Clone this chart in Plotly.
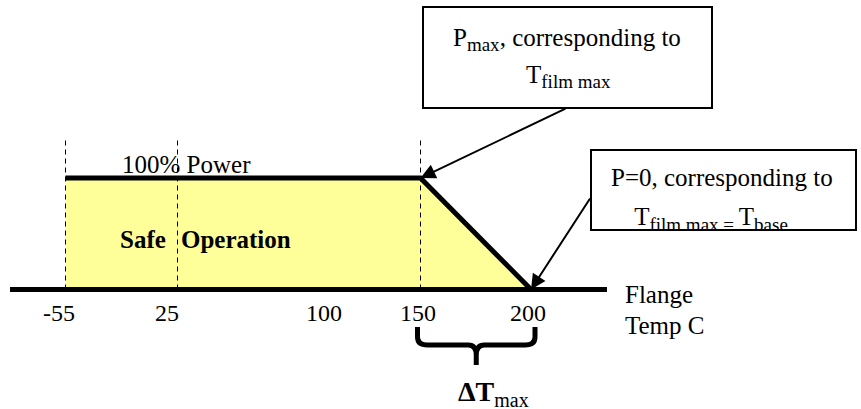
import numpy as np
import plotly.graph_objects as go

# ---------------- data ----------------
tick_temps = [-55, 25, 100, 150, 200]
tick_labels = ["-55", "25", "100", "150", "200"]
curve_temps = [-55, 150, 200]          # derating curve breakpoints (flange temp, C)
curve_power = [100, 100, 0]            # % of rated power
dashed_temps = [-55, 25, 150]
delta_temps = [150, 200]               # span of the Delta T max brace

# schematic (not-to-scale) horizontal placement of the temperature marks
axis_pos = [65.5, 177.5, 324, 420.5, 531]

W, H = 861, 409
FONT = "Liberation Serif, Times New Roman, Times, serif"


def tx(t):
    return float(np.interp(t, tick_temps, axis_pos))


Y0_PIX, Y100_PIX = 289.5, 178.0
K = (Y0_PIX - Y100_PIX) / 100.0


def py(pix):
    """pixel row -> power-axis units"""
    return (Y0_PIX - pix) / K


def sub(s, size=19):
    return f"<sub><span style='font-size:{size}px'>{s}</span></sub>"


fig = go.Figure()

# yellow safe-operation area
fig.add_trace(go.Scatter(
    x=[tx(t) for t in curve_temps], y=curve_power, mode="lines",
    line=dict(width=0, color="rgba(0,0,0,0)"),
    fill="tozeroy", fillcolor="#FFFF99", hoverinfo="skip"))

# dashed reference lines
for t in dashed_temps:
    fig.add_trace(go.Scatter(
        x=[tx(t), tx(t)], y=[0, py(138)], mode="lines",
        line=dict(color="black", width=1, dash="5px,4px"), hoverinfo="skip"))

# derating curve
fig.add_trace(go.Scatter(
    x=[tx(t) for t in curve_temps], y=curve_power, mode="lines",
    line=dict(color="black", width=5), hoverinfo="skip"))

# temperature axis line
fig.add_trace(go.Scatter(
    x=[10, 607], y=[0, 0], mode="lines",
    line=dict(color="black", width=5), hoverinfo="skip"))

# box 2 second line (drawn as trace so the box edge can clip it)
fig.add_trace(go.Scatter(
    x=[711], y=[py(219)], mode="text",
    text=["T" + sub("film max = ") + "T" + sub("base")],
    textposition="middle center",
    textfont=dict(family=FONT, size=25, color="black"), hoverinfo="skip"))

shapes = []
# white strip that clips the text under box 2
shapes.append(dict(type="rect", xref="x", yref="y", x0=592, x1=855,
                   y0=py(231), y1=py(246), fillcolor="white",
                   line=dict(width=0), layer="above"))
# boxes
shapes.append(dict(type="rect", xref="x", yref="y", x0=423, x1=712,
                   y0=py(108), y1=py(7), line=dict(color="black", width=2),
                   fillcolor="rgba(0,0,0,0)", layer="above"))
shapes.append(dict(type="rect", xref="x", yref="y", x0=591, x1=856,
                   y0=py(230), y1=py(150), line=dict(color="black", width=2),
                   fillcolor="rgba(0,0,0,0)", layer="above"))

# curly brace under 150..200
xl, xr = tx(delta_temps[0]) - 3, tx(delta_temps[1]) + 4
xm = (xl + xr) / 2
ytop, ybar, ytip = 327, 345, 365


def P(x, y):
    return f"{x},{py(y)}"


brace = (f"M {P(xl, ytop)} L {P(xl, ybar - 8)} Q {P(xl, ybar)} {P(xl + 10, ybar)} "
         f"L {P(xm - 8, ybar)} Q {P(xm, ybar)} {P(xm, ybar + 10)} L {P(xm, ytip)} "
         f"M {P(xm, ybar + 10)} Q {P(xm, ybar)} {P(xm + 8, ybar)} "
         f"L {P(xr - 10, ybar)} Q {P(xr, ybar)} {P(xr, ybar - 8)} L {P(xr, ytop)}")
shapes.append(dict(type="path", xref="x", yref="y", path=brace,
                   line=dict(color="black", width=5)))

ann = []


def text(x, ypix, s, size=25, anchor="center", bold=False):
    if bold:
        s = f"<b>{s}</b>"
    ann.append(dict(x=x, y=py(ypix), xref="x", yref="y", text=s, showarrow=False,
                    xanchor=anchor, yanchor="middle",
                    font=dict(family=FONT, size=size, color="black")))


# tick labels
shifts = [-7, -11, 0, -3, -3]
for t, lab, s in zip(tick_temps, tick_labels, shifts):
    text(tx(t) + s, 313, lab, size=24)

text(120, 164, "100% Power", anchor="left")
text(118, 239, "Safe", anchor="left", bold=True)
text(179, 239, "Operation", anchor="left", bold=True)
text(623, 294, "Flange", anchor="left")
text(623, 325, "Temp C", anchor="left")
text(567, 39, "P" + sub("max") + ", corresponding to")
text(568, 76, "T" + sub("film max"))
text(722, 177, "P=0, corresponding to")
ann.append(dict(x=456, y=py(393), xref="x", yref="y",
                text="<b>ΔT</b>" + sub("max", 20), showarrow=False,
                xanchor="left", yanchor="middle",
                font=dict(family=FONT, size=28, color="black")))

# arrows
for tip, tail in [((tx(150), 100), (567, py(108))),
                  ((tx(200), 0), (591, py(197)))]:
    ann.append(dict(x=tip[0], y=tip[1], ax=tail[0], ay=tail[1],
                    xref="x", yref="y", axref="x", ayref="y", text="",
                    showarrow=True, arrowhead=2, arrowsize=1.5, arrowwidth=2,
                    arrowcolor="black"))

fig.update_layout(
    width=W, height=H, margin=dict(l=0, r=0, t=0, b=0),
    paper_bgcolor="white", plot_bgcolor="white", showlegend=False,
    xaxis=dict(range=[0, W], visible=False, fixedrange=True),
    yaxis=dict(range=[py(H), py(0)], visible=False, fixedrange=True),
    shapes=shapes, annotations=ann,
)

fig.write_html("out.html", config={"displayModeBar": False},
               post_script="document.body.style.margin='0';")
